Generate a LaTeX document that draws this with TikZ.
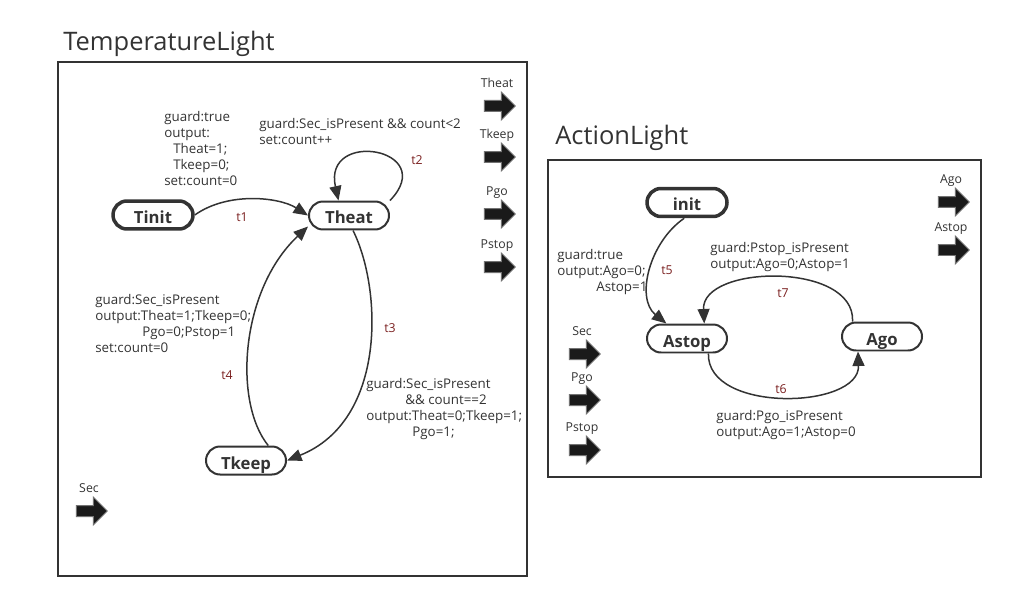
\documentclass[tikz,border=0pt]{standalone}
\usepackage{fontspec}
\setmainfont{Open Sans}
\usepackage{xcolor}
\usepackage{tikz}
\usetikzlibrary{shapes.arrows, arrows.meta, positioning}
\definecolor{ink}{HTML}{333333}
\definecolor{tred}{HTML}{7A1F1F}
\definecolor{portfill}{HTML}{1A1A1A}
\tikzset{
  frame/.style={draw=ink, line width=0.4mm},
  title/.style={anchor=base west, inner sep=0pt, text=ink,
                font=\fontsize{14.5}{17}\selectfont},
  state/.style={draw=ink, line width=0.4mm, rounded corners=2.8mm,
                minimum width=1.6cm, minimum height=0.56cm, inner sep=0pt,
                text height=3.6mm, text depth=0.2mm,
                text=ink, font=\fontsize{9.5}{10}\selectfont\bfseries},
  initstate/.style={state, line width=0.7mm},
  trans/.style={draw=ink, line width=0.3mm,
                -{Triangle[length=2.9mm, width=2.4mm]}},
  tname/.style={text=tred, inner sep=0pt, font=\fontsize{7}{8}\selectfont},
  guard/.style={anchor=north west, align=left, inner sep=0pt, text=ink,
                font=\fontsize{7.6}{9.1}\selectfont},
  port/.style={single arrow, fill=portfill, draw=black!55, line width=0.2mm,
               minimum height=6.2mm, inner xsep=0pt, inner ysep=1mm,
               single arrow head extend=1.7mm},
  portname/.style={text=ink, inner sep=0.3mm, text height=1.7mm, text depth=0pt,
                   font=\fontsize{7}{8}\selectfont}
}

\begin{document}
\begin{tikzpicture}[x=0.02cm, y=-0.02cm]
  \useasboundingbox (0,0) rectangle (1030,601);

  % TemperatureLight frame
  \node[title] (tlTitle) at (63,51) {TemperatureLight};
  \draw[frame] (58,62) rectangle (527,576);

  % TemperatureLight states
  \node[initstate] (tinit) at (153,215) {Tinit};
  \node[state] (theat) at (349,215.5) {Theat};
  \node[state] (tkeep) at (246,460.5) {Tkeep};

  % TemperatureLight ports
  \node[port] (tlOutTheat) at (497,106) {};
  \node[portname, above=2.2mm of tlOutTheat] (tlOutTheatName) {Theat};
  \node[port] (tlOutTkeep) at (497,157) {};
  \node[portname, above=2.2mm of tlOutTkeep] (tlOutTkeepName) {Tkeep};
  \node[port] (tlOutPgo) at (497,214) {};
  \node[portname, above=2.2mm of tlOutPgo] (tlOutPgoName) {Pgo};
  \node[port] (tlOutPstop) at (497,267) {};
  \node[portname, above=2.2mm of tlOutPstop] (tlOutPstopName) {Pstop};
  \node[port] (tlInSec) at (89,511) {};
  \node[portname, above=2.2mm of tlInSec] (tlInSecName) {Sec};

  % TemperatureLight transitions
  \draw[trans] (tinit.east) .. controls +(34,-24) and +(-28,-18) .. (theat.west);
  \draw[trans] (theat.north east) .. controls +(50,-52) and +(-16,-72) .. (theat.125);
  \draw[trans] (theat.-75) .. controls +(29,58) and +(100,-40) .. (tkeep.east);
  \draw[trans] (tkeep.34) .. controls +(-35,-43) and +(-68,64) .. (theat.-165);

  \node[tname] (t1) at (242,217) {t1};
  \node[tname] (t2) at (417,160) {t2};
  \node[tname] (t3) at (390,328) {t3};
  \node[tname] (t4) at (227,375) {t4};

  % TemperatureLight guards
  \node[guard] (g1) at (164,111)
    {guard:true\\output:\\\hspace*{1.8mm}Theat=1;\\\hspace*{1.8mm}Tkeep=0;\\set:count=0};
  \node[guard] (g2) at (259,118)
    {guard:Sec\_isPresent \&\& count<2\\set:count++};
  \node[guard] (g4) at (95,294)
    {guard:Sec\_isPresent\\output:Theat=1;Tkeep=0;\\\hspace*{9.4mm}Pgo=0;Pstop=1\\set:count=0};
  \node[guard] (g3) at (366,378)
    {guard:Sec\_isPresent\\\hspace*{7.8mm}\&\& count==2\\output:Theat=0;Tkeep=1;\\\hspace*{9.2mm}Pgo=1;};

  % ActionLight frame
  \node[title] (alTitle) at (555,145) {ActionLight};
  \draw[frame] (548,160) rectangle (981,477);

  % ActionLight states
  \node[initstate] (init) at (687,202.5) {init};
  \node[state] (astop) at (687,338.5) {Astop};
  \node[state] (ago) at (882,336.5) {Ago};

  % ActionLight ports
  \node[port] (alOutAgo) at (951,202) {};
  \node[portname, above=2.2mm of alOutAgo] (alOutAgoName) {Ago};
  \node[port] (alOutAstop) at (951,250) {};
  \node[portname, above=2.2mm of alOutAstop] (alOutAstopName) {Astop};
  \node[port] (alInSec) at (582,354) {};
  \node[portname, above=2.2mm of alInSec] (alInSecName) {Sec};
  \node[port] (alInPgo) at (582,400) {};
  \node[portname, above=2.2mm of alInPgo] (alInPgoName) {Pgo};
  \node[port] (alInPstop) at (582,450) {};
  \node[portname, above=2.2mm of alInPstop] (alInPstopName) {Pstop};

  % ActionLight transitions
  \draw[trans] (init.-100) .. controls +(-35,24) and +(-31,-25) .. (astop.144);
  \draw[trans] (ago.153) .. controls +(3,-60) and +(-3,-59) .. (astop.41);
  \draw[trans] (astop.-35) .. controls +(-2,60) and +(2,58) .. (ago.-148);

  \node[tname] (t5) at (667,270) {t5};
  \node[tname] (t7) at (783,293) {t7};
  \node[tname] (t6) at (781,389) {t6};

  % ActionLight guards
  \node[guard] (g5) at (557,249)
    {guard:true\\output:Ago=0;\\\hspace*{7.8mm}Astop=1};
  \node[guard] (g7) at (710,242)
    {guard:Pstop\_isPresent\\output:Ago=0;Astop=1};
  \node[guard] (g6) at (716,410)
    {guard:Pgo\_isPresent\\output:Ago=1;Astop=0};
\end{tikzpicture}
\end{document}
